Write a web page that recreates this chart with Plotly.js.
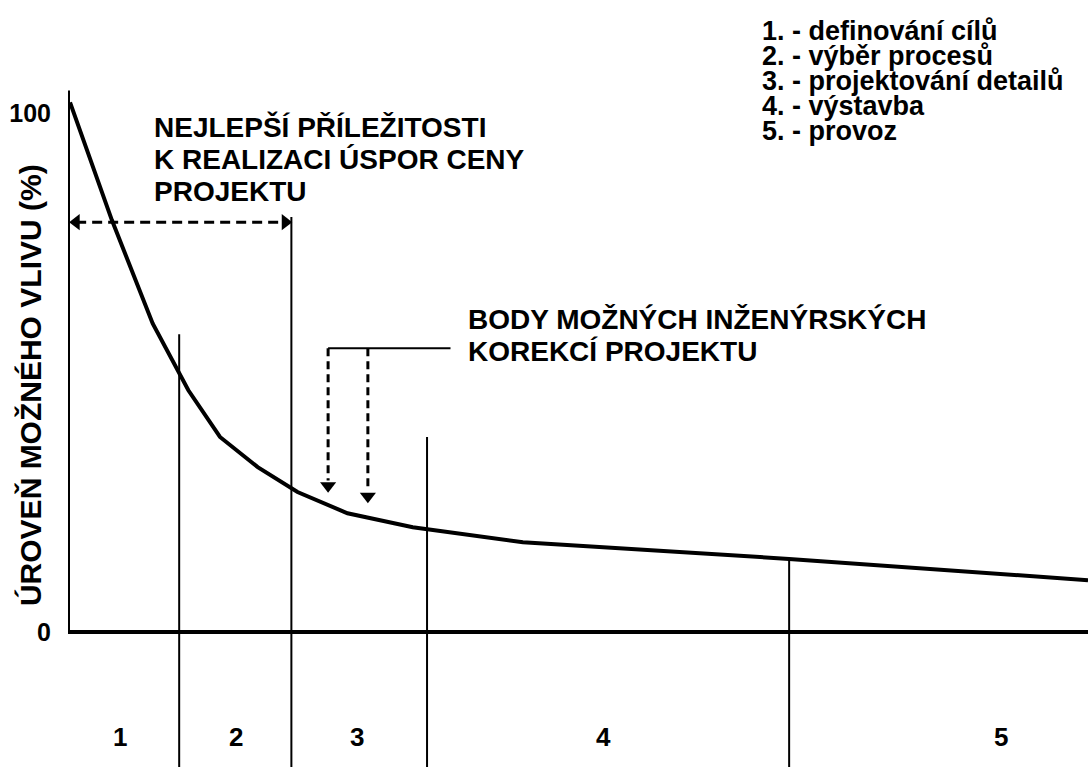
<!DOCTYPE html>
<html>
<head>
<meta charset="utf-8">
<script src="https://cdn.plot.ly/plotly-3.0.1.min.js"></script>
<style>
html,body{margin:0;padding:0;background:#fff;}
#chart{width:1088px;height:767px;}
</style>
</head>
<body>
<div id="chart"></div>
<script>
// Curve: level of possible influence (%) over project time (0-100 time units)
const curveX = [0.2, 4.3, 8.3, 11.8, 14.9, 18.6, 22.5, 27.4, 33.8, 44.6, 70.7, 100];
const curveY = [102.1, 79.4, 59.5, 46.6, 37.6, 31.8, 27.0, 22.9, 20.2, 17.3, 14.1, 10.0];

// Phase boundaries and the top of each boundary line
const phaseBounds = [10.9, 21.9, 35.2, 70.7];
const phaseTops = [57.4, 80.0, 37.6, 13.9];
const phaseLabels = ['1', '2', '3', '4', '5'];
const phaseLabelX = [5.1, 16.5, 28.3, 52.5, 91.5];

// Y ticks
const yTickVals = [0, 100];
const yTickText = ['0', '100'];

// Best opportunities arrow (double-headed, dashed)
const bestArrowX = [0.2, 21.9];
const bestArrowY = 79.0;

// Engineering correction points (dashed arrows)
const corrX = [25.5, 29.4];
const corrTopY = 54.7;
const corrTipY = [27.0, 25.0];
const corrLeaderEndX = 37.5;

const legendLines = [
  '1. - definování cílů',
  '2. - výběr procesů',
  '3. - projektování detailů',
  '4. - výstavba',
  '5. - provoz'
];

const textBest = ['NEJLEPŠÍ PŘÍLEŽITOSTI', 'K REALIZACI ÚSPOR CENY', 'PROJEKTU'];
const textCorr = ['BODY MOŽNÝCH INŽENÝRSKÝCH', 'KOREKCÍ PROJEKTU'];
const yTitle = 'ÚROVEŇ MOŽNÉHO VLIVU (%)';

const FONT = 'Liberation Sans, Arial, sans-serif';
const yMin = -26, yMax = 106.4;

const traces = [];
// main curve
traces.push({x: curveX, y: curveY, mode: 'lines', line: {color: '#000', width: 4}, hoverinfo: 'skip', cliponaxis: false});
// best-opportunity dashed line
traces.push({x: [bestArrowX[0] + 0.6, bestArrowX[1] - 0.6], y: [bestArrowY, bestArrowY], mode: 'lines',
  line: {color: '#000', width: 3, dash: '10px,6px'}, hoverinfo: 'skip'});
traces.push({x: [bestArrowX[0] + 0.6, bestArrowX[1] - 0.6], y: [bestArrowY, bestArrowY], mode: 'markers',
  marker: {symbol: ['triangle-left', 'triangle-right'], size: 14, color: '#000'}, hoverinfo: 'skip', cliponaxis: false});
// correction leader line (solid)
traces.push({x: [corrX[0], corrLeaderEndX], y: [corrTopY, corrTopY], mode: 'lines',
  line: {color: '#000', width: 2}, hoverinfo: 'skip'});
// correction dashed arrows
corrX.forEach((cx, i) => {
  traces.push({x: [cx, cx], y: [corrTopY, corrTipY[i] + 2.2], mode: 'lines',
    line: {color: '#000', width: 3, dash: '8px,5px'}, hoverinfo: 'skip'});
  traces.push({x: [cx], y: [corrTipY[i] + 1.2], mode: 'markers',
    marker: {symbol: 'triangle-down', size: 14, color: '#000'}, hoverinfo: 'skip'});
});

const shapes = [];
// axes
shapes.push({type: 'line', xref: 'x', yref: 'y', x0: 0, x1: 0, y0: 0, y1: 104.4, line: {color: '#000', width: 4}});
shapes.push({type: 'line', xref: 'x', yref: 'y', x0: 0, x1: 100, y0: 0, y1: 0, line: {color: '#000', width: 4}});
// phase boundary lines
phaseBounds.forEach((b, i) => {
  shapes.push({type: 'line', xref: 'x', yref: 'y', x0: b, x1: b, y0: phaseTops[i], y1: yMin,
    line: {color: '#000', width: 2}});
});

const annotations = [];
phaseLabels.forEach((t, i) => {
  annotations.push({x: phaseLabelX[i], y: -20.2, xref: 'x', yref: 'y', text: t, showarrow: false,
    font: {family: FONT, size: 26, color: '#000', weight: 'bold'}});
});
// index 5
annotations.push({x: 8.2, y: 100.8, xref: 'x', yref: 'y', text: textBest.join('<br>'), showarrow: false,
  xanchor: 'left', yanchor: 'top', align: 'left',
  font: {family: FONT, size: 28, color: '#000', weight: 'bold'}});
// index 6
annotations.push({x: 39.0, y: 63.6, xref: 'x', yref: 'y', text: textCorr.join('<br>'), showarrow: false,
  xanchor: 'left', yanchor: 'top', align: 'left',
  font: {family: FONT, size: 28, color: '#000', weight: 'bold'}});
// index 7
annotations.push({x: 0.678, y: 1.0954, xref: 'paper', yref: 'paper', text: legendLines.join('<br>'),
  showarrow: false, xanchor: 'left', yanchor: 'top', align: 'left',
  font: {family: FONT, size: 27, color: '#000', weight: 'bold'}});
// index 8
annotations.push({x: -0.0373, y: 47.6, xref: 'paper', yref: 'y', text: yTitle, showarrow: false,
  textangle: -90, xanchor: 'center', yanchor: 'middle',
  font: {family: FONT, size: 30, color: '#000', weight: 'bold'}});

const layout = {
  width: 1088, height: 767,
  margin: {l: 68, r: 0, t: 80, b: 0},
  paper_bgcolor: '#fff', plot_bgcolor: '#fff',
  showlegend: false,
  xaxis: {range: [0, 100], visible: false, fixedrange: true},
  yaxis: {range: [yMin, yMax], tickvals: yTickVals, ticktext: yTickText, showgrid: false, zeroline: false,
    showline: false, ticks: '', ticklabelstandoff: 16,
    tickfont: {family: FONT, size: 25, color: '#000', weight: 'bold'}, fixedrange: true},
  shapes: shapes,
  annotations: annotations
};

// tighter line spacing (em) for the multi-line texts, as in the reference
const lineSpacing = {5: 1.143, 6: 1.143, 7: 0.926};

const gd = document.getElementById('chart');
Plotly.newPlot(gd, traces, layout, {displayModeBar: false, staticPlot: true}).then(() => {
  Object.keys(lineSpacing).forEach(idx => {
    const g = gd.querySelector('g.annotation[data-index="' + idx + '"]');
    if (!g) return;
    g.querySelectorAll('tspan.line').forEach((ts, i) => {
      ts.setAttribute('dy', (i * lineSpacing[idx]) + 'em');
    });
  });
});
</script>
</body>
</html>
